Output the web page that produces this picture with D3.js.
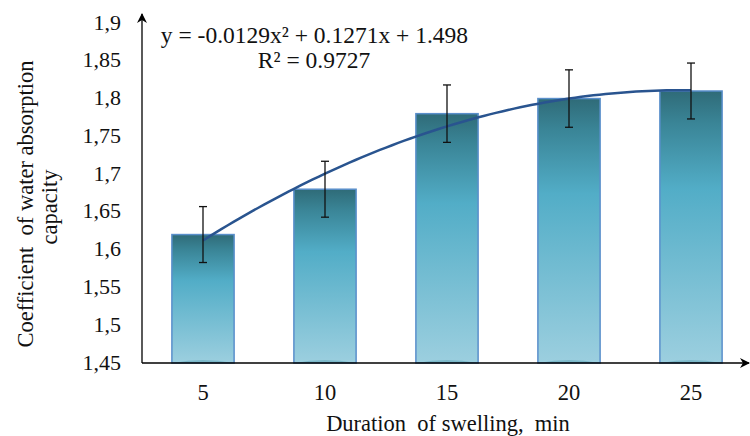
<!DOCTYPE html>
<html>
<head>
<meta charset="utf-8">
<script src="https://cdn.jsdelivr.net/npm/d3@7"></script>
<style>
  body { margin: 0; background: #fff; }
</style>
</head>
<body>
<svg id="chart" width="750" height="436"></svg>
<script>
// data
var durations = ['5', '10', '15', '20', '25'];
var coefficients = [1.62, 1.68, 1.78, 1.80, 1.81];
var errors = [0.037, 0.037, 0.038, 0.038, 0.037];
var yTicks = [1.45, 1.5, 1.55, 1.6, 1.65, 1.7, 1.75, 1.8, 1.85, 1.9];
var trendCoef = [-0.0129, 0.1271, 1.498];   // a x^2 + b x + c, x = 1..5

var serif = "'Liberation Serif', 'DejaVu Serif', serif";

var svg = d3.select('#chart');

var x = d3.scaleBand()
    .domain(durations)
    .range([142, 752])
    .paddingInner(0.49)
    .paddingOuter(0.245);

var y = d3.scaleLinear()
    .domain([1.45, 1.9])
    .range([363, 23]);

// bar gradient
var defs = svg.append('defs');
var grad = defs.append('linearGradient')
    .attr('id', 'barGrad')
    .attr('x1', 0).attr('y1', 0).attr('x2', 0).attr('y2', 1);
grad.append('stop').attr('offset', '0%').attr('stop-color', '#2f6b78');
grad.append('stop').attr('offset', '12%').attr('stop-color', '#3a8597');
grad.append('stop').attr('offset', '36%').attr('stop-color', '#52adc7');
grad.append('stop').attr('offset', '100%').attr('stop-color', '#9ccfdf');

defs.append('marker')
    .attr('id', 'arrow')
    .attr('viewBox', '0 0 10 10')
    .attr('refX', 9).attr('refY', 5)
    .attr('markerWidth', 10).attr('markerHeight', 10)
    .attr('markerUnits', 'userSpaceOnUse')
    .attr('orient', 'auto')
    .append('path')
    .attr('d', 'M0,0 L10,5 L0,10 L3,5 Z')
    .attr('fill', '#000');

// bars
svg.append('g').selectAll('rect.bar')
    .data(coefficients)
    .enter()
    .append('rect')
    .classed('bar', true)
    .attr('x', function(d, i) { return x(durations[i]); })
    .attr('y', function(d) { return y(d); })
    .attr('width', x.bandwidth())
    .attr('height', function(d) { return y(1.45) - y(d); })
    .attr('fill', 'url(#barGrad)')
    .attr('stroke', '#5a8fcb')
    .attr('stroke-width', 1.5);

// little cylinder shadow at the bottom of each bar
svg.append('g').selectAll('path.base')
    .data(coefficients)
    .enter()
    .append('path')
    .attr('d', function(d, i) {
        var x0 = x(durations[i]) + 1, w = x.bandwidth() - 2, b = y(1.45);
        return 'M' + x0 + ',' + b + ' Q' + (x0 + w / 2) + ',' + (b - 6) + ' ' + (x0 + w) + ',' + b + ' Z';
    })
    .attr('fill', '#3f8da0')
    .attr('opacity', 0.35);

// trend line
var lineX = d3.scaleLinear().domain([1, 5])
    .range([x(durations[0]) + x.bandwidth() / 2, x(durations[4]) + x.bandwidth() / 2]);
var trendPts = d3.range(1, 5.001, 0.05).map(function(t) {
    return [lineX(t), y(trendCoef[0] * t * t + trendCoef[1] * t + trendCoef[2])];
});
svg.append('path')
    .attr('d', d3.line()(trendPts))
    .attr('fill', 'none')
    .attr('stroke', '#29548f')
    .attr('stroke-width', 2.5);

// error bars
var eb = svg.append('g').selectAll('g.err')
    .data(coefficients)
    .enter()
    .append('g')
    .attr('transform', function(d, i) { return 'translate(' + (x(durations[i]) + x.bandwidth() / 2) + ',0)'; });
eb.append('line')
    .attr('y1', function(d, i) { return y(d + errors[i]); })
    .attr('y2', function(d, i) { return y(d - errors[i]); })
    .attr('stroke', '#111').attr('stroke-width', 1.3);
eb.append('line')
    .attr('x1', -4).attr('x2', 4)
    .attr('y1', function(d, i) { return y(d + errors[i]); })
    .attr('y2', function(d, i) { return y(d + errors[i]); })
    .attr('stroke', '#111').attr('stroke-width', 1.3);
eb.append('line')
    .attr('x1', -4).attr('x2', 4)
    .attr('y1', function(d, i) { return y(d - errors[i]); })
    .attr('y2', function(d, i) { return y(d - errors[i]); })
    .attr('stroke', '#111').attr('stroke-width', 1.3);

// axes lines with arrows
svg.append('line')
    .attr('x1', 142).attr('y1', y(1.45))
    .attr('x2', 142).attr('y2', 14)
    .attr('stroke', '#000').attr('stroke-width', 1.3)
    .attr('marker-end', 'url(#arrow)');
svg.append('line')
    .attr('x1', 142).attr('y1', y(1.45))
    .attr('x2', 749).attr('y2', y(1.45))
    .attr('stroke', '#000').attr('stroke-width', 1.3)
    .attr('marker-end', 'url(#arrow)');

// all texts share the same serif face
function label(sel, size) {
    return sel.style('font-family', serif).style('font-size', size + 'px').attr('fill', '#111');
}

// y tick labels
label(svg.append('g').selectAll('text.ytick')
    .data(yTicks)
    .enter()
    .append('text')
    .attr('x', 121)
    .attr('y', function(d) { return y(d) + 6.5; })
    .attr('text-anchor', 'end')
    .text(function(d) { return String(d).replace('.', ','); }), 22);

// x tick labels
label(svg.append('g').selectAll('text.xtick')
    .data(durations)
    .enter()
    .append('text')
    .attr('x', function(d) { return x(d) + x.bandwidth() / 2; })
    .attr('y', 400)
    .attr('text-anchor', 'middle')
    .text(function(d) { return d; }), 22.5);

// axis titles
label(svg.append('text')
    .attr('x', 448).attr('y', 431)
    .attr('text-anchor', 'middle')
    .style('white-space', 'pre')
    .text('Duration  of swelling,  min'), 22.5);

var yTitle = label(svg.append('text')
    .attr('transform', 'translate(0,204) rotate(-90)')
    .attr('text-anchor', 'middle')
    .style('white-space', 'pre'), 22.5);
yTitle.append('tspan').attr('x', 0).attr('y', 33).text('Coefficient  of water absorption');
yTitle.append('tspan').attr('x', -3).attr('y', 57).text('capacity');

// trend equation
label(svg.append('text')
    .attr('x', 314.5).attr('y', 43)
    .attr('text-anchor', 'middle')
    .text('y = -0.0129x\u00b2 + 0.1271x + 1.498'), 23.5);
label(svg.append('text')
    .attr('x', 314).attr('y', 68)
    .attr('text-anchor', 'middle')
    .text('R\u00b2 = 0.9727'), 23.5);
</script>
</body>
</html>
